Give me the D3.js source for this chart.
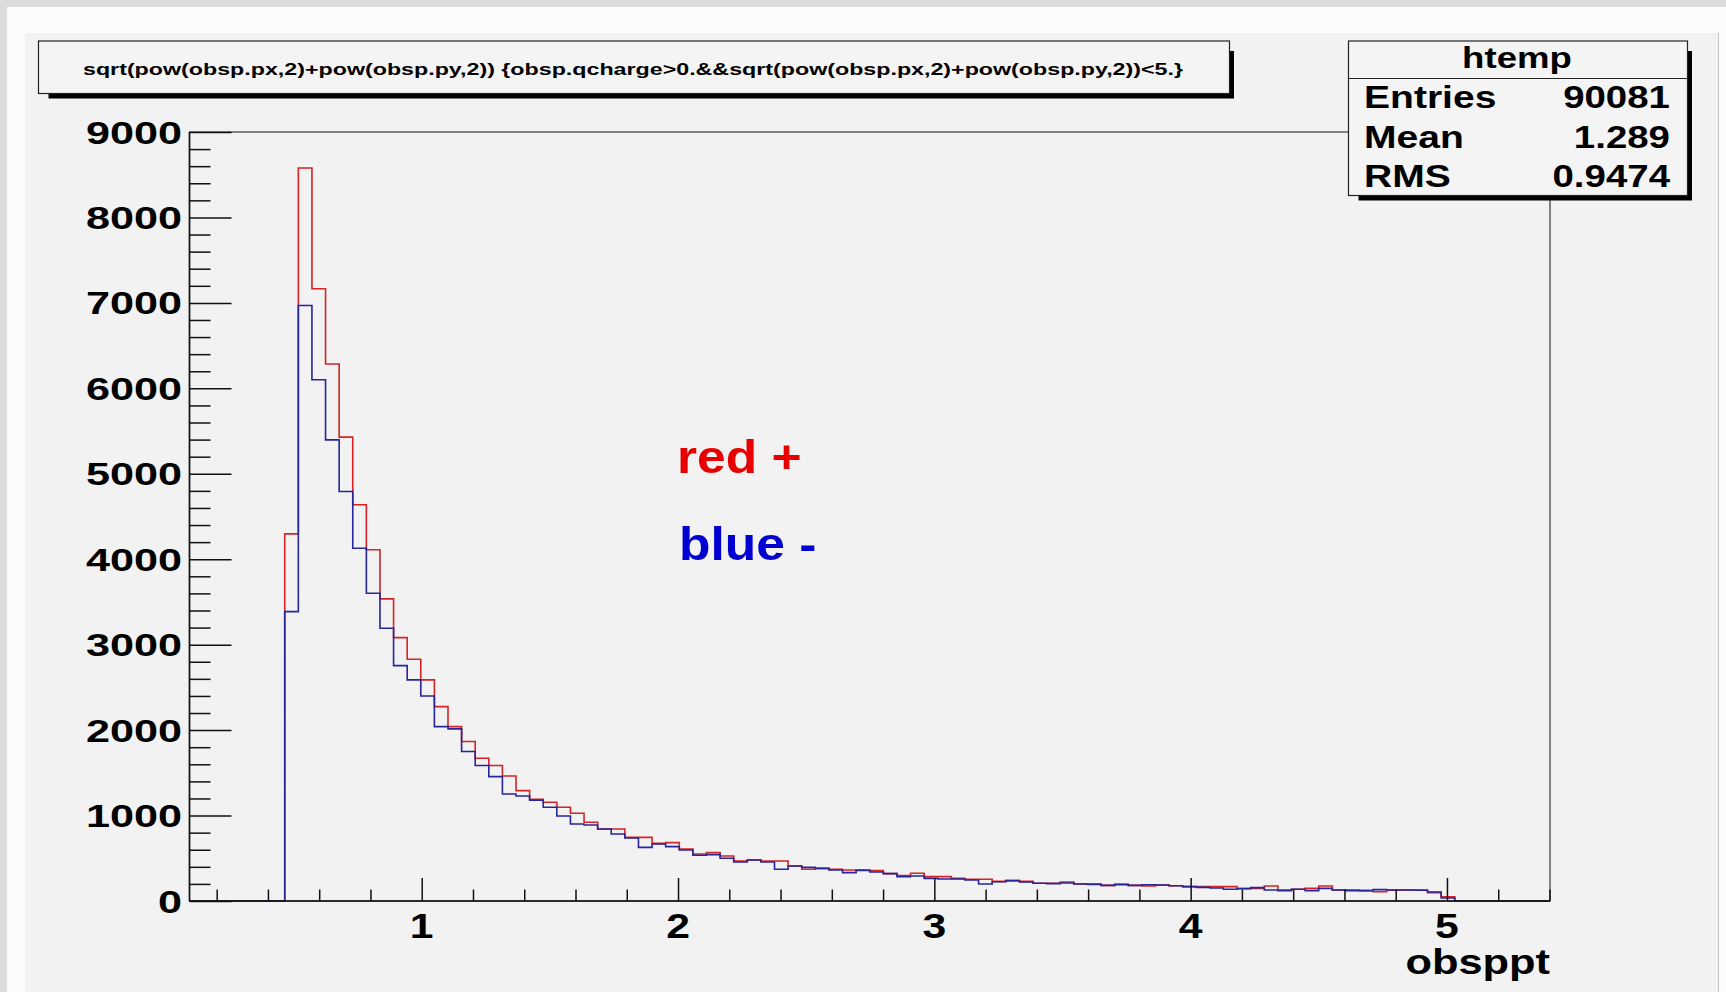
<!DOCTYPE html>
<html>
<head>
<meta charset="utf-8">
<script src="https://cdn.jsdelivr.net/npm/d3@7"></script>
<style>
  html, body { margin: 0; padding: 0; background: #dcdcdc; }
  svg { display: block; }
</style>
</head>
<body>
<svg id="canvas" width="1726" height="992"></svg>
<script>
// ---- histogram binning (100 equal bins over the axis range) ----
const nBins = 100;
const xLow = 0.094;
const xHigh = 5.402;
const firstFilledBin = 7;

// bin contents from firstFilledBin onwards, obsp.qcharge > 0
const positiveCounts = [
  4297, 8578, 7165, 6284, 5429, 4637, 4110, 3536, 3083, 2830,
  2588, 2275, 2041, 1866, 1670, 1585, 1463, 1292, 1190, 1155,
  1097, 1027,  921,  843,  843,  745,  745,  675,  683,  609,
   550,  566,  527,  468,  480,  468,  468,  410,  371,  382,
   371,  363,  363,  355,  320,  297,  324,  285,  285,  265,
   254,  254,  230,  238,  230,  207,  207,  222,  199,  199,
   183,  199,  183,  176,  187,  178,  168,  168,  168,  168,
   148,  148,  176,  129,  137,  148,  176,  129,  129,  121,
   109,  125,  129,  129,   98,   50
];

// bin contents from firstFilledBin onwards, obsp.qcharge < 0
const negativeCounts = [
  3387, 6970, 6100, 5397, 4793, 4129, 3602, 3193, 2755, 2588,
  2400, 2041, 2014, 1749, 1585, 1456, 1253, 1229, 1180, 1097,
   995,  902,  890,  843,  784,  738,  628,  667,  636,  597,
   535,  543,  500,  457,  480,  457,  371,  410,  394,  382,
   363,  332,  359,  340,  320,  285,  293,  265,  258,  258,
   246,  199,  226,  238,  222,  207,  203,  211,  199,  195,
   183,  191,  183,  191,  187,  178,  168,  160,  152,  137,
   144,  156,  129,  121,  137,  121,  148,  129,  121,  121,
   133,  129,  129,  125,  105,   35
];

const yMajorTicks = [0, 1000, 2000, 3000, 4000, 5000, 6000, 7000, 8000, 9000];
const xMajorTicks = [1, 2, 3, 4, 5];
const xAxisTitle = "obsppt";
const plotTitle = "sqrt(pow(obsp.px,2)+pow(obsp.py,2)) {obsp.qcharge>0.&&sqrt(pow(obsp.px,2)+pow(obsp.py,2))<5.}";
const statsName = "htemp";
const statsLabels = ["Entries", "Mean", "RMS"];
const statsValues = ["90081", "1.289", "0.9474"];
const legendTexts = ["red +", "blue -"];

// ---- layout ----
const W = 1726, H = 992;
const frame = { left: 189.5, right: 1550, top: 132, bottom: 901 };
const FONT = "'Liberation Sans', Arial, Helvetica, sans-serif";
const RED = "#d42424", BLUE = "#26269a";

const svg = d3.select("#canvas");

// canvas + pad backgrounds
svg.append("rect").attr("x", 0).attr("y", 0).attr("width", W).attr("height", H).attr("fill", "#dcdcdc");
svg.append("rect").attr("x", 7).attr("y", 7).attr("width", W - 7).attr("height", H - 7).attr("fill", "#fbfbfb");
svg.append("rect").attr("x", 25).attr("y", 33).attr("width", 1693).attr("height", H - 33).attr("fill", "#f2f2f2");
svg.append("line").attr("x1", 1718.5).attr("x2", 1718.5).attr("y1", 33).attr("y2", H)
  .attr("stroke", "#c4c4c4").attr("stroke-width", 1);

const x = d3.scaleLinear().domain([xLow, xHigh]).range([frame.left, frame.right]);
const y = d3.scaleLinear().domain([0, 9000]).range([frame.bottom, frame.top]);

// full 100-bin content arrays
function fullContents(filled) {
  const arr = new Array(nBins).fill(0);
  filled.forEach((v, i) => { arr[firstFilledBin + i] = v; });
  return arr;
}
const binWidth = (xHigh - xLow) / nBins;

function stepPoints(contents) {
  const pts = contents.map((c, i) => [xLow + i * binWidth, c]);
  pts.push([xHigh, contents[nBins - 1]]);
  return pts;
}

const stepLine = d3.line()
  .x(d => x(d[0]))
  .y(d => y(d[1]))
  .curve(d3.curveStepAfter);

const plot = svg.append("g");

plot.append("path")
  .datum(stepPoints(fullContents(positiveCounts)))
  .attr("d", stepLine)
  .attr("fill", "none").attr("stroke", RED).attr("stroke-width", 1.6);

plot.append("path")
  .datum(stepPoints(fullContents(negativeCounts)))
  .attr("d", stepLine)
  .attr("fill", "none").attr("stroke", BLUE).attr("stroke-width", 1.6);

// frame (top / right edges)
svg.append("rect")
  .attr("x", frame.left).attr("y", frame.top)
  .attr("width", frame.right - frame.left).attr("height", frame.bottom - frame.top)
  .attr("fill", "none").attr("stroke", "#3a3a3a").attr("stroke-width", 1.2);

// ---- axes: ticks point into the frame ----
const xMinor = d3.range(2, 55, 2).map(i => i / 10).filter(v => v <= xHigh && !xMajorTicks.includes(v));
const yMinor = d3.range(0, 9001, 200).filter(v => v % 1000 !== 0);

function styleAxis(g) {
  g.select(".domain").remove();
  g.selectAll(".tick line").attr("stroke", "#111").attr("stroke-width", 1.5);
  g.selectAll(".tick text").remove();
}

svg.append("g").attr("transform", `translate(0,${frame.bottom})`)
  .call(d3.axisBottom(x).tickValues(xMajorTicks).tickSize(-23).tickFormat(""))
  .call(styleAxis);
svg.append("g").attr("transform", `translate(0,${frame.bottom})`)
  .call(d3.axisBottom(x).tickValues(xMinor).tickSize(-11.5).tickFormat(""))
  .call(styleAxis);
svg.append("g").attr("transform", `translate(${frame.left},0)`)
  .call(d3.axisLeft(y).tickValues(yMajorTicks).tickSize(-42).tickFormat(""))
  .call(styleAxis);
svg.append("g").attr("transform", `translate(${frame.left},0)`)
  .call(d3.axisLeft(y).tickValues(yMinor).tickSize(-21).tickFormat(""))
  .call(styleAxis);

// axis lines
svg.append("line").attr("x1", frame.left).attr("x2", frame.right)
  .attr("y1", frame.bottom).attr("y2", frame.bottom).attr("stroke", "#111").attr("stroke-width", 1.6);
svg.append("line").attr("x1", frame.left).attr("x2", frame.left)
  .attr("y1", frame.top).attr("y2", frame.bottom).attr("stroke", "#111").attr("stroke-width", 1.6);

// text stretched horizontally like the X11 bitmap fonts
function stretched(parent, px, py, str, opt) {
  const g = parent.append("g")
    .attr("transform", `translate(${px},${py}) scale(${opt.sx || 1},1)`);
  g.append("text")
    .attr("text-anchor", opt.anchor || "start")
    .attr("font-family", FONT)
    .attr("font-size", opt.size)
    .attr("font-weight", opt.weight || "bold")
    .attr("fill", opt.fill || "#000")
    .text(str);
  return g;
}

// tick labels
yMajorTicks.forEach(v => {
  stretched(svg, 182, y(v) + 11.5, String(v), { size: 32, sx: 1.35, anchor: "end" });
});
xMajorTicks.forEach(v => {
  stretched(svg, x(v), 938, String(v), { size: 35, sx: 1.22, anchor: "middle" });
});
stretched(svg, frame.right, 974, xAxisTitle, { size: 35, sx: 1.24, anchor: "end" });

// ---- title pave ----
function pave(x0, y0, x1, y1) {
  const g = svg.append("g");
  const bs = 4.5;
  g.append("rect").attr("x", x0 + 10).attr("y", y1).attr("width", x1 - x0 - 10 + bs).attr("height", bs + 0.5).attr("fill", "#000");
  g.append("rect").attr("x", x1).attr("y", y0 + 10).attr("width", bs).attr("height", y1 - y0 - 10 + bs).attr("fill", "#000");
  g.append("rect").attr("x", x0).attr("y", y0).attr("width", x1 - x0).attr("height", y1 - y0)
    .attr("fill", "#f4f4f4").attr("stroke", "#222").attr("stroke-width", 1.2);
  return g;
}

const titleBox = pave(38.5, 41, 1229.5, 93.5);
titleBox.append("text")
  .attr("x", 633).attr("y", 74.5)
  .attr("text-anchor", "middle")
  .attr("font-family", FONT).attr("font-size", 17).attr("font-weight", "bold")
  .attr("textLength", 1100).attr("lengthAdjust", "spacingAndGlyphs")
  .text(plotTitle);

// ---- statistics pave ----
const statsBox = pave(1348.5, 41, 1687.5, 195.5);
statsBox.append("line").attr("x1", 1348.5).attr("x2", 1687.5).attr("y1", 78.5).attr("y2", 78.5)
  .attr("stroke", "#222").attr("stroke-width", 1.2);
stretched(statsBox, 1517, 68, statsName, { size: 30, sx: 1.22, anchor: "middle" });
const rowBase = [108, 148, 187];
statsLabels.forEach((lab, i) => {
  stretched(statsBox, 1364, rowBase[i], lab, { size: 31, sx: 1.26, anchor: "start" });
  stretched(statsBox, 1670, rowBase[i], statsValues[i], { size: 31, sx: 1.24, anchor: "end" });
});

// ---- charge labels ----
stretched(svg, 677, 473, legendTexts[0], { size: 46, sx: 1.12, fill: "#e80000" });
stretched(svg, 679, 560, legendTexts[1], { size: 46, sx: 1.12, fill: "#0000d0" });
</script>
</body>
</html>
